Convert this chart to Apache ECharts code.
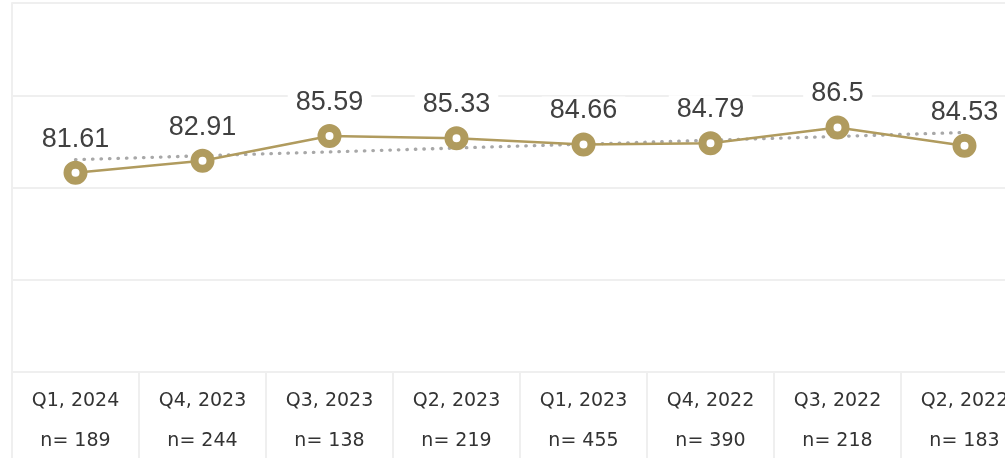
<!DOCTYPE html>
<html>
<head>
<meta charset="utf-8">
<script src="https://cdn.jsdelivr.net/npm/echarts@6/dist/echarts.min.js"></script>
<style>
html,body{margin:0;padding:0;background:#fff;overflow:hidden;}
#c{width:1005px;height:458px;}
</style>
</head>
<body>
<div id="c"></div>
<script>
const quarters = ['Q1, 2024','Q4, 2023','Q3, 2023','Q2, 2023','Q1, 2023','Q4, 2022','Q3, 2022','Q2, 2022'];
const sampleSizes = [189, 244, 138, 219, 455, 390, 218, 183];
const scores = [81.61, 82.91, 85.59, 85.33, 84.66, 84.79, 86.5, 84.53];
const trendEnds = [83.02, null, null, null, null, null, null, 85.96];

const categories = quarters.map((q, i) => q + '\nn= ' + sampleSizes[i]);

const chart = echarts.init(document.getElementById('c'), null, {renderer: 'canvas'});
chart.setOption({
  backgroundColor: '#ffffff',
  animation: false,
  grid: {left: 12, top: 3, width: 1016, height: 369, containLabel: false, outerBoundsMode: 'none'},
  xAxis: {
    type: 'category',
    data: categories,
    boundaryGap: true,
    axisLine: {show: true, lineStyle: {color: '#efefef', width: 2}},
    axisTick: {show: true, length: 90, lineStyle: {color: '#efefef', width: 2}},
    axisLabel: {
      color: '#333333',
      fontFamily: 'DejaVu Sans',
      fontSize: 19,
      lineHeight: 40,
      margin: 9
    },
    splitLine: {show: false}
  },
  yAxis: {
    type: 'value',
    min: 60, max: 100, interval: 10,
    axisLine: {show: true, lineStyle: {color: '#efefef', width: 2}},
    axisTick: {show: false},
    axisLabel: {show: false},
    splitLine: {show: true, lineStyle: {color: '#efefef', width: 2}}
  },
  series: [
    {
      type: 'line',
      data: trendEnds,
      connectNulls: true,
      symbol: 'none',
      silent: true,
      lineStyle: {color: '#a8a8a8', width: 3.3, type: [0.5, 8], cap: 'round'},
      z: 2
    },
    {
      type: 'line',
      data: scores,
      symbol: 'circle',
      symbolSize: 16,
      itemStyle: {color: '#ffffff', borderColor: '#b09b5e', borderWidth: 8},
      lineStyle: {color: '#b09b5e', width: 2.5},
      label: {
        show: true,
        position: 'top',
        distance: 7,
        color: '#404040',
        fontFamily: 'Liberation Sans',
        fontSize: 27,
        lineHeight: 29,
        backgroundColor: '#ffffff',
        padding: [0, 8]
      },
      z: 3
    }
  ]
});
</script>
</body>
</html>
